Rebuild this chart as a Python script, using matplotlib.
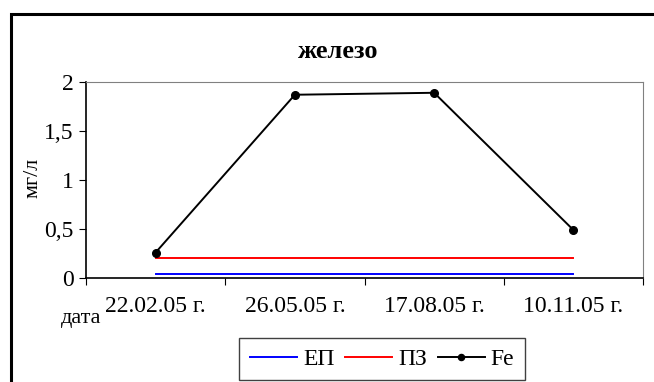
import matplotlib.pyplot as plt
from matplotlib.patches import Rectangle

dates = ['22.02.05 г.', '26.05.05 г.', '17.08.05 г.', '10.11.05 г.']
ep = [0.04, 0.04, 0.04, 0.04]
pz = [0.2, 0.2, 0.2, 0.2]
fe = [0.26, 1.87, 1.89, 0.49]

plt.rcParams['font.family'] = ['Liberation Serif', 'DejaVu Serif']

W, H = 654, 382
fig = plt.figure(figsize=(W / 100, H / 100), dpi=100)

# outer chart frame (runs off right and bottom edges)
fig.patches.append(Rectangle((11 / W, -0.1), 1.1, 1 - 14 / H + 0.1,
                             transform=fig.transFigure, fill=False,
                             edgecolor='black', linewidth=2.2))

ax = fig.add_axes([86 / W, 1 - 278 / H, (643 - 86) / W, (278 - 82) / H])
x = [0.5, 1.5, 2.5, 3.5]
ax.plot(x, ep, color='#0000ff', linewidth=1.4, label='ЕП')
ax.plot(x, pz, color='#ff0000', linewidth=1.4, label='ПЗ')
ax.plot(x, fe, color='black', linewidth=1.4, marker='o', markersize=5.5, label='Fe')

ax.set_xlim(0, 4)
ax.set_ylim(0, 2)
ax.set_yticks([0, 0.5, 1, 1.5, 2])
ax.set_yticklabels(['0', '0,5', '1', '1,5', '2'], fontsize=17)
ax.set_xticks([0, 1, 2, 3, 4])
ax.set_xticklabels([])
ax.set_xticks(x, minor=True)
ax.set_xticklabels(dates, minor=True, fontsize=17)
ax.tick_params(axis='x', which='minor', length=0, pad=13)
ax.tick_params(axis='x', which='major', length=5, direction='out', color='black')
ax.tick_params(axis='y', length=5, direction='out', color='black', pad=4)
for s in ['top', 'right']:
    ax.spines[s].set_color('#808080')
for s in ['left', 'bottom']:
    ax.spines[s].set_color('black')
    ax.spines[s].set_linewidth(1.2)

ax.set_ylabel('мг/л', fontsize=16)
ax.yaxis.set_label_coords((43 - 86) / (643 - 86), (278 - 178) / (278 - 82))
fig.text(338 / W, 1 - 51 / H, 'железо', fontsize=19, fontweight='bold',
         ha='center', va='center')
fig.text(81 / W, 1 - 319 / H, 'дата', fontsize=16, ha='center', va='center')

ax.legend(loc='center', bbox_to_anchor=((382 - 86) / (643 - 86), (278 - 359) / (278 - 82)),
          ncol=3, fontsize=17, frameon=True, fancybox=False, edgecolor='#404040',
          handlelength=2.0, handletextpad=0.25, columnspacing=0.45,
          borderpad=0.45, markerscale=0.8, framealpha=1)

fig.savefig('out.png', dpi=100)
